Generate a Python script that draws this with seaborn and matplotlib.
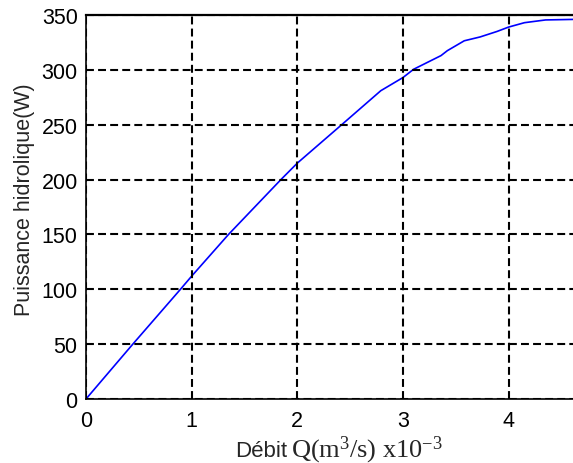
import matplotlib
matplotlib.use("Agg")
import matplotlib.pyplot as plt
import seaborn as sns
import pandas as pd

# Hydraulic power versus flow rate (flow in 1e-3 m3/s)
debit = [0.0, 0.443, 0.894, 1.0, 1.349, 1.845, 2.0, 2.42, 2.79, 3.0, 3.1,
         3.36, 3.42, 3.58, 3.73, 3.89, 4.0, 4.15, 4.35, 4.62]
puissance = [0.0, 50.0, 100.0, 112.0, 150.0, 200.0, 215.0, 250.0, 281.0, 293.0,
             300.5, 313.0, 317.5, 326.5, 330.0, 335.0, 339.0, 343.0, 345.5, 346.0]
xticks = [0, 1, 2, 3, 4]
yticks = [0, 50, 100, 150, 200, 250, 300, 350]

sns.set_style("white")
plt.rcParams["font.family"] = ["Liberation Sans", "DejaVu Sans"]
plt.rcParams["mathtext.fontset"] = "custom"
plt.rcParams["mathtext.rm"] = "Liberation Serif"
plt.rcParams["mathtext.it"] = "Liberation Serif:italic"

df = pd.DataFrame({"debit": debit, "puissance": puissance})

fig = plt.figure(figsize=(5.73, 4.64), dpi=100)
ax = fig.add_axes([86 / 573, 1 - 400 / 464, 1 - 86 / 573 + 0.002, (400 - 16) / 464])

sns.lineplot(data=df, x="debit", y="puissance", ax=ax, color="#0000ff",
             linewidth=1.2, estimator=None, sort=False)

ax.set_xlim(0, 4.62)
ax.set_ylim(0, 350)
ax.set_xticks(xticks)
ax.set_yticks(yticks)
ax.set_xticklabels([str(t) for t in xticks])
ax.set_yticklabels([str(t) for t in yticks])
ax.tick_params(axis="both", labelsize=15.5, colors="black", direction="in",
               length=4, width=0.8)
ax.tick_params(axis="x", pad=8)
ax.tick_params(axis="y", pad=6)

ax.grid(True, color="black", linestyle=(0, (3.8, 2.0)), linewidth=1.5)
ax.set_axisbelow(False)

for side in ["left", "bottom"]:
    ax.spines[side].set_color("black")
    ax.spines[side].set_linewidth(1.2)
ax.spines["top"].set_color("black")
ax.spines["top"].set_linewidth(1.6)
ax.spines["right"].set_visible(False)

# x label: sans word followed by the serif unit expression
ax.set_xlabel("")
fig.text(235 / 573, 1 - 457 / 464, "Débit", fontsize=16, ha="left", va="baseline")
fig.text(291 / 573, 1 - 457 / 464, r"$\mathrm{Q(m^3/s)\ x10^{-3}}$",
         fontsize=19, ha="left", va="baseline")

ax.set_ylabel("Puissance hidrolique(W)", fontsize=15.5)
ax.yaxis.set_label_coords(-0.104, 0.522)

fig.savefig("out.png", dpi=100, facecolor="white")
